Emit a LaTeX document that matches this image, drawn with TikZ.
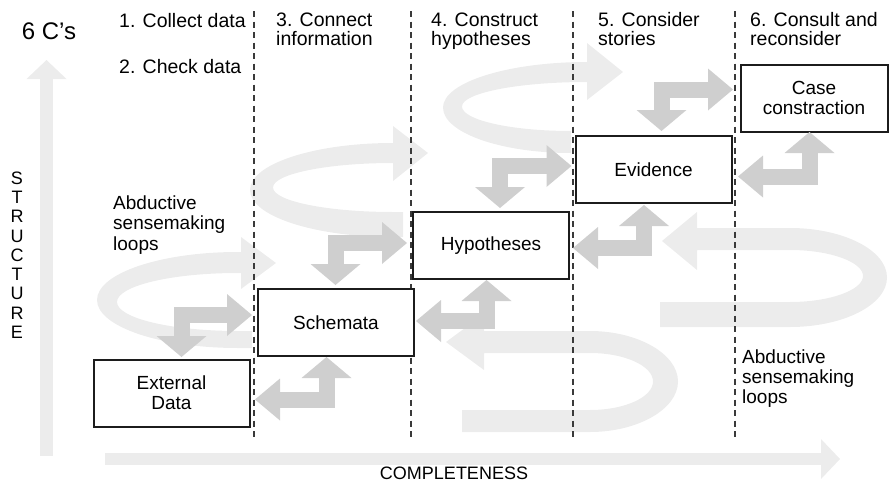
\documentclass[tikz,border=0pt]{standalone}
\usepackage{fontspec}
\setmainfont{Liberation Sans}
\usetikzlibrary{arrows.meta, calc}
\definecolor{LoopGray}{HTML}{ECECEC}
\definecolor{ArrowGray}{HTML}{CFCFCF}
\definecolor{BoxLine}{HTML}{1C1C1C}
\definecolor{DashGray}{HTML}{3A3A3A}
\tikzset{
  stagebox/.style={draw=BoxLine, line width=2pt, fill=white, align=center, minimum width=156pt, minimum height=67pt, inner sep=0pt, outer sep=0pt, font=\fontsize{19}{20}\selectfont},
  colhead/.style={anchor=base west, align=left, inner sep=0pt, font=\fontsize{19.5}{19.5}\selectfont},
  looplabel/.style={anchor=base west, align=left, inner sep=0pt, font=\fontsize{19}{20.5}\selectfont},
  stagedash/.style={draw=DashGray, line width=1.2pt, dash pattern=on 6pt off 4.5pt},
  downright/.style={draw=ArrowGray, line width=16pt, line join=miter, {Triangle[length=21pt, width=50pt, line width=0pt]}-{Triangle[length=25pt, width=42pt, line width=0pt]}},
  leftup/.style={draw=ArrowGray, line width=16pt, line join=miter, {Triangle[length=25pt, width=42pt, line width=0pt]}-{Triangle[length=21pt, width=50pt, line width=0pt]}},
  loopband/.style={fill=LoopGray},
  axisarrow/.style={draw=LoopGray, -{Triangle[length=19pt, width=40pt, line width=0pt]}}
}

\begin{document}
\begin{tikzpicture}[x=1pt, y=-1pt]
\useasboundingbox (0,0) rectangle (889,482);

% axes
\coordinate (yfoot) at (46.5,456);
\coordinate (ytip) at (46.5,60);
\coordinate (xfoot) at (105,459);
\coordinate (xtip) at (840,459);
\draw[axisarrow, line width=13pt] (yfoot) -- (ytip);
\draw[axisarrow, line width=12pt] (xfoot) -- (xtip);

% sensemaking loops
\fill[loopband] (252,348) -- (238,348) .. controls (160,348) and (97,326.5) .. (97,300) .. controls (97,273.5) and (160,252) .. (238,252) -- (241,252) -- (241,237) -- (276,263) -- (241,289) -- (241,273) -- (238,273) .. controls (171,273) and (117,286) .. (117,302) .. controls (117,318) and (171,331) .. (238,331) -- (252,331) -- cycle;
\fill[loopband] (403,237) -- (393,237) .. controls (314,237) and (250,216) .. (250,190) .. controls (250,164) and (314,143) .. (393,143) -- (393,126) -- (428,153) -- (393,181) -- (393,163) .. controls (327,163) and (273,174) .. (273,187.5) .. controls (273,201) and (327,212) .. (393,212) -- (403,212) -- cycle;
\fill[loopband] (571,153) .. controls (500,153) and (443,132.5) .. (443,107.5) .. controls (443,82.5) and (507.5,62) .. (587,62) -- (587,43) -- (623,72) -- (587,100) -- (587,82) .. controls (518,82) and (462,93) .. (462,106.5) .. controls (462,120) and (511,131) .. (571,131) -- cycle;
\fill[loopband] (660,327) -- (790,327) .. controls (843,327) and (887,305) .. (887,277.5) .. controls (887,250) and (843,228) .. (790,228) -- (697,228) -- (697,212) -- (662,241) -- (697,270) -- (697,250) -- (790,250) .. controls (830,250) and (863,262) .. (863,276) .. controls (863,290) and (830,302) .. (790,302) -- (660,302) -- cycle;
\fill[loopband] (462,432) -- (590,432) .. controls (638,432) and (678,409) .. (678,381.5) .. controls (678,354) and (638,331) .. (590,331) -- (484,331) -- (484,314) -- (446,342) -- (484,370) -- (484,353) -- (590,353) .. controls (625,353) and (653,366) .. (653,381.5) .. controls (653,397) and (625,410) .. (590,410) -- (462,410) -- cycle;

% stage separators
\foreach \x in {254,411,573,735}
  \draw[stagedash] (\x,11) -- (\x,437);

% labels
\node[inner sep=0pt, font=\fontsize{24}{24}\selectfont] (title) at (49,31) {6 C’s};
\node[inner sep=0pt, align=center, font=\fontsize{18}{19.25}\selectfont] (structure) at (17,255) {S\\T\\R\\U\\C\\T\\U\\R\\E};
\node[inner sep=0pt, font=\fontsize{18}{18}\selectfont] (completeness) at (454,473.5) {COMPLETENESS};
\node[colhead] (collect) at (119,27) {1. Collect data};
\node[colhead] (check) at (119,73) {2. Check data};
\node[colhead] (connect) at (276,45.5) {3. Connect\\information};
\node[colhead] (construct) at (431,45.5) {4. Construct\\hypotheses};
\node[colhead] (consider) at (598,45.5) {5. Consider\\stories};
\node[colhead] (consult) at (750,45.5) {6. Consult and\\reconsider};
\node[looplabel] (loopsleft) at (113,250) {Abductive\\sensemaking\\loops};
\node[looplabel, font=\fontsize{19}{20}\selectfont] (loopsright) at (742,403) {Abductive\\sensemaking\\loops};

% stages
\node[stagebox] (ext) at (171.5,393) {External\\Data};
\node[stagebox] (schema) at (336,322.5) {Schemata};
\node[stagebox] (hyp) at (491,245.5) {Hypotheses};
\node[stagebox] (evid) at (653.5,169.5) {Evidence};
\node[stagebox, minimum width=147pt] (case) at (814,98) {Case\\constraction};

% two-way links
\draw[downright] ($(ext.north)+(10,-2.5)$) |- ($(schema.west)+(-6,-7.5)$);
\draw[leftup] ($(ext.east)+(5.5,6.5)$) -| ($(schema.south)+(-9.5,1)$);
\draw[downright] ($(schema.north)+(-0.5,-4)$) |- ($(hyp.west)+(-6,-2.5)$);
\draw[leftup] ($(schema.east)+(2,-1.5)$) -| ($(hyp.south)+(-4.5,1)$);
\draw[downright] ($(hyp.north)+(9,-4)$) |- ($(evid.west)+(-4,-3.5)$);
\draw[leftup] ($(hyp.east)+(4,2.5)$) -| ($(evid.south)+(-9.5,2)$);
\draw[downright] ($(evid.north)+(8,-5)$) |- ($(case.west)+(-7.5,-8.5)$);
\draw[leftup] ($(evid.east)+(6.5,7)$) -| ($(case.south)+(-4.5,0.5)$);
\end{tikzpicture}
\end{document}
